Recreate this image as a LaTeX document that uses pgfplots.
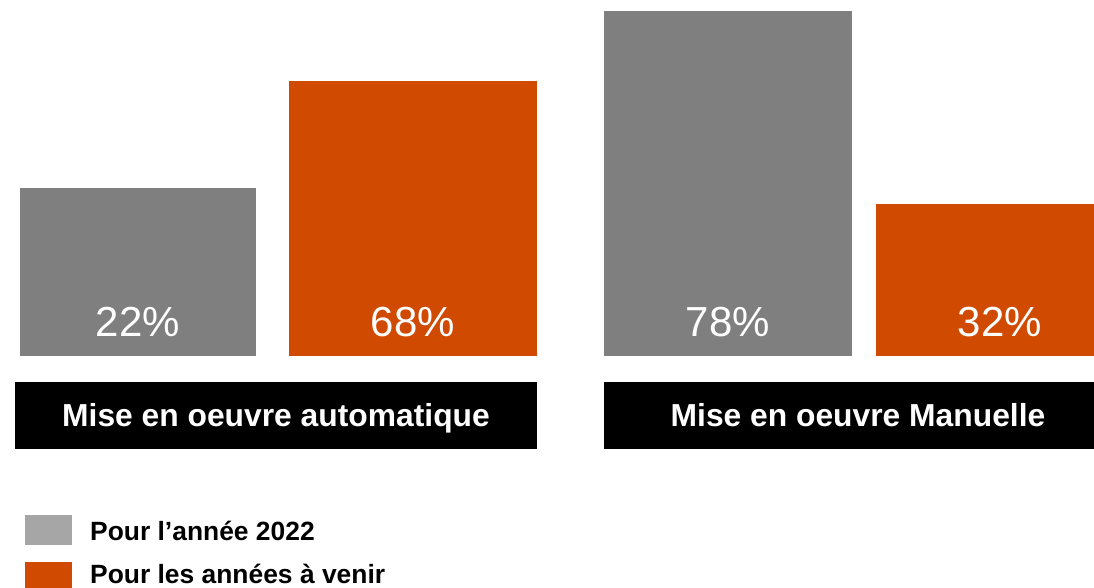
\documentclass[border=0pt]{standalone}
\usepackage{pgfplots}
\pgfplotsset{compat=1.18}
\usepackage{fontspec}
\setmainfont{Liberation Sans}
\definecolor{bargray}{HTML}{7F7F7F}
\definecolor{leggray}{HTML}{A6A6A6}
\definecolor{barorange}{HTML}{D04A02}
\begin{document}
\begin{tikzpicture}[x=0.5pt,y=0.5pt]
\begin{axis}[
  at={(0,0)}, anchor=south west,
  width=547pt, height=294pt, scale only axis,
  xmin=0, xmax=1094, ymin=-232, ymax=356,
  axis lines=none, ticks=none, clip=false,
  legend style={at={(axis cs:19,-155)}, anchor=north west, draw=none, fill=none,
    font=\bfseries\fontsize{13.2}{15}\selectfont, row sep=6pt, column sep=5pt,
    nodes={inner xsep=4pt}},
  legend cell align=left,
]
% Pour l'annee 2022 : automatique 22 %, manuelle 78 %
\addplot[ybar, bar width=236, bar shift=0, fill=bargray, draw=none, forget plot] coordinates {(138,168)};
\addplot[ybar, bar width=248, bar shift=0, fill=bargray, draw=none, forget plot] coordinates {(728,345)};
% Pour les annees a venir : automatique 68 %, manuelle 32 %
\addplot[ybar, bar width=248, bar shift=0, fill=barorange, draw=none, forget plot] coordinates {(413,275)};
\addplot[ybar, bar width=218, bar shift=0, fill=barorange, draw=none, forget plot] coordinates {(985,152)};

\addlegendimage{legend image code/.code={\fill[leggray] (0pt,-6pt) rectangle (23pt,8.5pt);}}
\addlegendentry{Pour l’année 2022}
\addlegendimage{legend image code/.code={\fill[barorange] (0pt,-8pt) rectangle (23pt,6.5pt);}}
\addlegendentry{Pour les années à venir}

\begin{scope}[every node/.style={anchor=base, text=white, font=\fontsize{21}{25}\selectfont, inner sep=0pt}]
\node at (axis cs:138,19) {22\%};
\node at (axis cs:413,19) {68\%};
\node at (axis cs:728,19) {78\%};
\node at (axis cs:1000,19) {32\%};
\end{scope}

\fill[black] (axis cs:15,-26) rectangle (axis cs:537,-93);
\fill[black] (axis cs:604,-26) rectangle (axis cs:1094,-93);
\node[anchor=base, text=white, font=\bfseries\fontsize{15.9}{18}\selectfont, inner sep=0pt] at (axis cs:276,-71) {Mise en oeuvre automatique};
\node[anchor=base, text=white, font=\bfseries\fontsize{15.9}{18}\selectfont, inner sep=0pt] at (axis cs:858,-71) {Mise en oeuvre Manuelle};
\end{axis}
\pgfresetboundingbox
\path[use as bounding box] (0,0) rectangle (1094,588);
\end{tikzpicture}
\end{document}
